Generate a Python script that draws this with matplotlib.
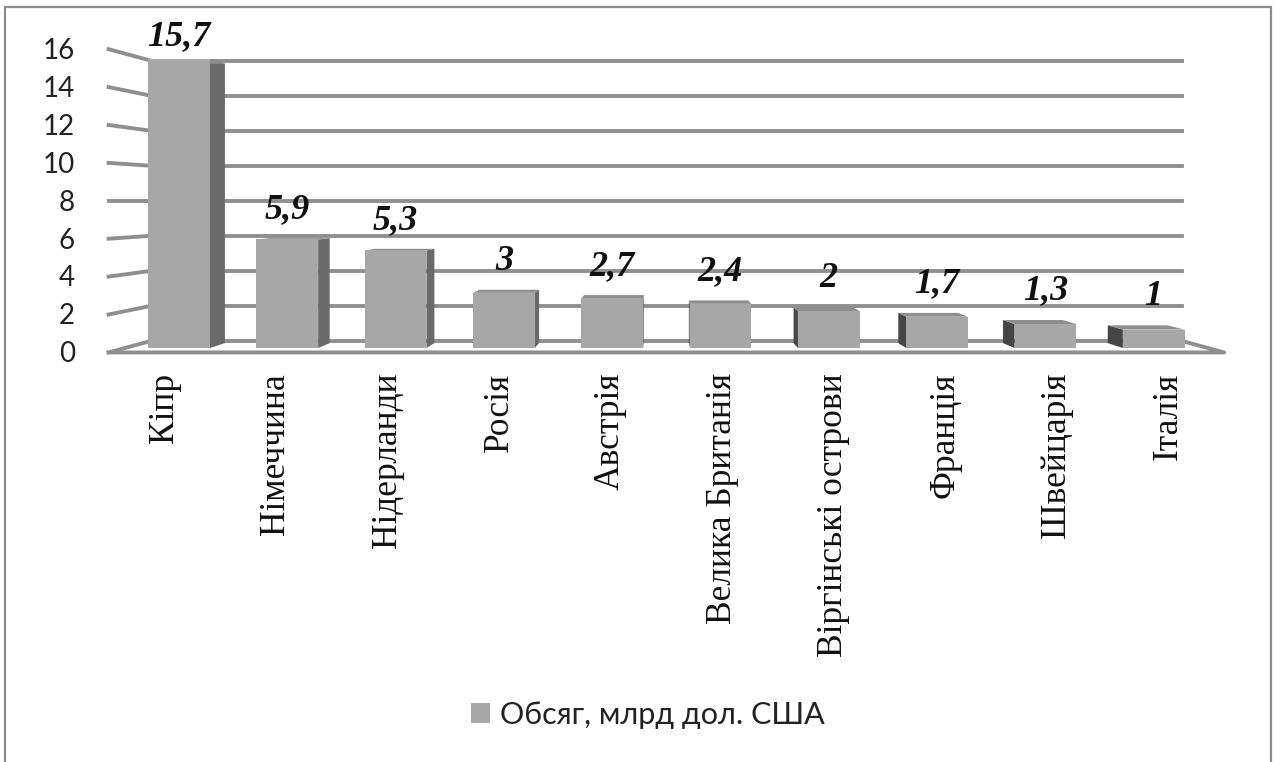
import numpy as np
import matplotlib
matplotlib.use("Agg")
import matplotlib.pyplot as plt
from matplotlib.patches import Polygon, Rectangle

countries = ["Кіпр", "Німеччина", "Нідерланди", "Росія", "Австрія",
             "Велика Британія", "Віргінські острови", "Франція", "Швейцарія", "Італія"]
values = [15.7, 5.9, 5.3, 3, 2.7, 2.4, 2, 1.7, 1.3, 1]
value_labels = ["15,7", "5,9", "5,3", "3", "2,7", "2,4", "2", "1,7", "1,3", "1"]
y_ticks = [0, 2, 4, 6, 8, 10, 12, 14, 16]
series_name = "Обсяг, млрд дол. США"

front_col = "#a7a7a7"
right_side_col = "#6a6a6a"
left_side_col = "#454545"
top_col = "#8e8e8e"
grid_col = "#8f8f8f"

# simple perspective: horizon at value 8, centre between bars 5 and 6
xc, yc = 4.5, 8.0
s_front, s_back, s_bar = 1.03, 0.953, 0.967


def proj(x, v, s):
    return xc + (x - xc) * s, yc + (v - yc) * s


fig = plt.figure(figsize=(12.76, 7.62), dpi=100)
ax = fig.add_axes([0, 0, 1, 1])
ax.set_xlim(-179 / 108.3, (1276 - 179) / 108.3)
ax.set_ylim(-414 / 18.4, 348 / 18.4)
ax.axis("off")

x = np.arange(len(values))
x0, x1 = -0.5, len(values) - 0.5

# walls and floor
for v in y_ticks:
    bx0, by = proj(x0, v, s_back)
    bx1, _ = proj(x1, v, s_back)
    ax.plot([bx0, bx1], [by, by], color=grid_col, lw=2.8, zorder=1)
    fx, fy = proj(x0, v, s_front)
    ax.plot([fx, bx0], [fy, by], color=grid_col, lw=2.8, zorder=1)
    ax.text(fx - 0.31, fy - 0.1, str(v), ha="right", va="center",
            fontsize=20, family="Lato", color="#222222")

fx0, fy0 = proj(x0, 0, s_front)
fx1, _ = proj(x1, 0, s_front)
bx1, by0 = proj(x1, 0, s_back)
ax.plot([fx0, fx1, bx1], [fy0, fy0, by0], color=grid_col, lw=2.8, zorder=1)

bars = ax.bar(x, values, width=0.57, color=front_col, zorder=4, label=series_name)

for b, v, lab, name in zip(bars, values, value_labels, countries):
    xl = b.get_x()
    xr = xl + b.get_width()
    # visible side face
    if xr < xc:
        pts = [proj(xr, 0, 1), proj(xr, v, 1), proj(xr, v, s_bar), proj(xr, 0, s_bar)]
        ax.add_patch(Polygon(pts, closed=True, facecolor=right_side_col, edgecolor="none", zorder=3))
    elif xl > xc:
        pts = [proj(xl, 0, 1), proj(xl, v, 1), proj(xl, v, s_bar), proj(xl, 0, s_bar)]
        ax.add_patch(Polygon(pts, closed=True, facecolor=left_side_col, edgecolor="none", zorder=3))
    # top face
    pts = [proj(xl, v, 1), proj(xr, v, 1), proj(xr, v, s_bar), proj(xl, v, s_bar)]
    ax.add_patch(Polygon(pts, closed=True, facecolor=top_col, edgecolor="none", zorder=3))

    cx = xl + b.get_width() / 2
    ax.text(cx, yc + (v - yc) * 0.961 + 1.07, lab, ha="center", va="baseline",
            fontsize=26, family="Liberation Serif", weight="bold", style="italic",
            color="#111111", zorder=5)
    lx, _ = proj(cx, 0, s_front)
    ax.text(lx, -1.35, name, rotation=90, ha="center", va="top",
            fontsize=25.5, family="Liberation Serif", color="#111111")

leg = fig.legend(handles=[bars], labels=[series_name], loc="center",
                 bbox_to_anchor=(648 / 1276, 1 - 715 / 762), frameon=False,
                 prop={"family": "Lato", "size": 22}, handlelength=0.62,
                 handleheight=0.62, handletextpad=0.35)
for t in leg.get_texts():
    t.set_color("#222222")

fig.add_artist(Rectangle((5 / 1276, -0.02), 1266 / 1276, 1.02 - 7 / 762,
                         transform=fig.transFigure, fill=False,
                         edgecolor="#8c8c8c", lw=1.6))

fig.savefig("out.png", dpi=100)
